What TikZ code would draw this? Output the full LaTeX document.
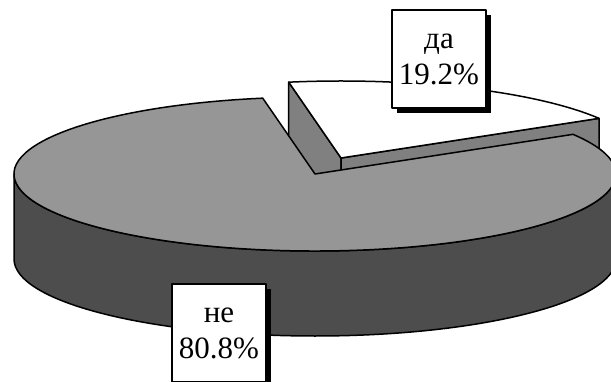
\documentclass[tikz,border=0pt]{standalone}
\usepackage{fontspec}
\setmainfont{Liberation Serif}
\newfontfamily\valfont{Liberation Serif}
\usetikzlibrary{shadows}
\definecolor{topgray}{RGB}{150,150,150}
\definecolor{sidegray}{RGB}{77,77,77}
\definecolor{cutgray}{RGB}{128,128,128}

\begin{document}
\begin{tikzpicture}[x=1pt,y=1pt,line width=1.5pt,line join=round,
  valbox/.style={draw,fill=white,line width=1.6pt,minimum width=94pt,minimum height=98pt,
    inner sep=0pt,align=center,font=\valfont\fontsize{31}{36}\selectfont,
    execute at begin node=\rule{0pt}{24pt},
    general shadow={fill=black,shadow xshift=5pt,shadow yshift=-5pt}}]
\useasboundingbox (0,0) rectangle (611,381);

% slice da, pulled out
\filldraw[fill=cutgray] (341,223) -- ++(100:301pt and 77pt) -- ++(0,-85) -- (341,138) -- cycle;
\filldraw[fill=cutgray] (341,223) -- ++(31:301pt and 77pt) -- ++(0,-85) -- (341,138) -- cycle;
\filldraw[fill=white] (341,223) -- ++(31:301pt and 77pt)
  arc[start angle=31, end angle=100, x radius=301pt, y radius=77pt] -- cycle;

% slice ne
\filldraw[fill=sidegray] (14,207) -- (14,122)
  arc[start angle=180, end angle=360, x radius=301pt, y radius=77pt] -- (616,207)
  arc[start angle=0, end angle=-180, x radius=301pt, y radius=77pt] -- cycle;
\filldraw[fill=topgray] (315,207) -- ++(100:301pt and 77pt)
  arc[start angle=100, end angle=391, x radius=301pt, y radius=77pt] -- cycle;

% labels
\node[valbox] (da) at (439,322) {да\\19.2\%};
\node[valbox] (ne) at (219,48) {не\\80.8\%};

\end{tikzpicture}
\end{document}
